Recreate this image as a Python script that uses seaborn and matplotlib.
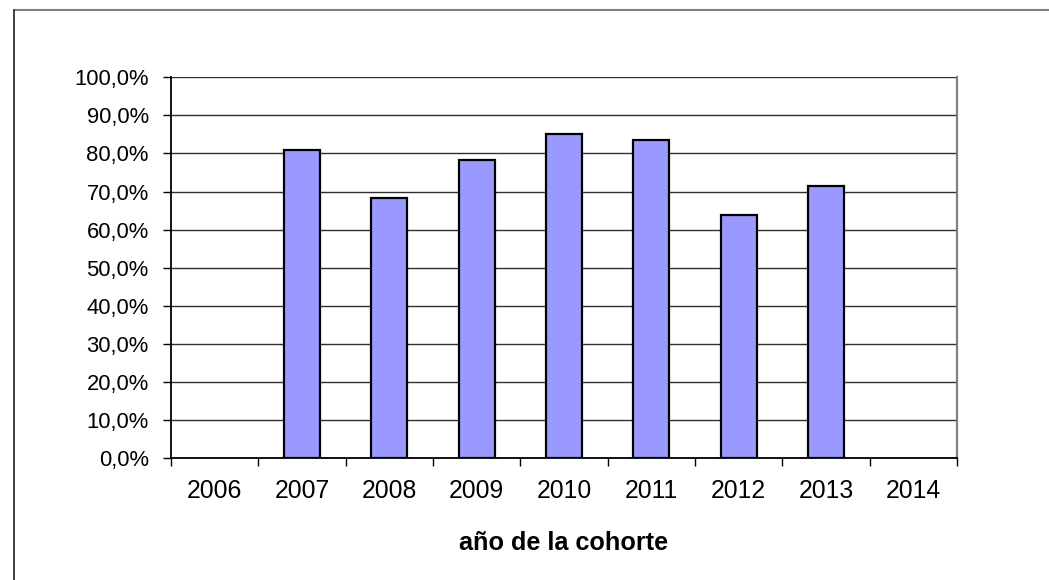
import numpy as np
import pandas as pd
import matplotlib
matplotlib.use("Agg")
import matplotlib.pyplot as plt
import matplotlib.ticker as ticker
from matplotlib.lines import Line2D
import seaborn as sns

# cohort years and share (%)
years = ['2006', '2007', '2008', '2009', '2010', '2011', '2012', '2013', '2014']
values = [np.nan, 81.0, 68.3, 78.4, 85.2, 83.4, 63.7, 71.5, np.nan]

df = pd.DataFrame({'year': years, 'pct': values})

sns.set_theme(style='white')
plt.rcParams['font.family'] = ['Liberation Sans', 'DejaVu Sans']

fig = plt.figure(figsize=(10.49, 5.80), dpi=100)
ax = fig.add_axes([171/1049, 1 - 458/580, (957 - 171)/1049, (458 - 77.3)/580])

sns.barplot(data=df, x='year', y='pct', color='#9999FF', saturation=1,
            edgecolor='black', linewidth=1.6, width=0.41, ax=ax)

ax.set_xlim(-0.5, 8.5)
ax.set_ylim(0, 100)
ax.set_yticks(np.arange(0, 101, 10))
ax.yaxis.set_major_formatter(ticker.FuncFormatter(lambda v, p: f'{v:.1f}'.replace('.', ',') + '%'))
ax.yaxis.grid(True, color='#303030', linewidth=1.0)
ax.set_axisbelow(True)

# tick marks between categories, labels at centres
ax.set_xticks(np.arange(-0.5, 9, 1), minor=True)
ax.tick_params(axis='x', which='minor', direction='out', length=6, width=1, color='black', bottom=True)
ax.tick_params(axis='x', which='major', length=0, pad=15, labelsize=17.8, labelcolor='black')
ax.tick_params(axis='y', which='major', direction='out', length=6, width=1, color='black',
               left=True, pad=10, labelsize=15.8, labelcolor='black')

for s in ['left', 'bottom']:
    ax.spines[s].set_color('black')
    ax.spines[s].set_linewidth(1.3)
ax.spines['right'].set_color('#808080')
ax.spines['right'].set_linewidth(1.6)
ax.spines['top'].set_visible(False)

ax.set_ylabel('')
ax.set_xlabel('año de la cohorte', fontsize=18.2, fontweight='bold', color='black', labelpad=20)

# outer chart frame (only top and left edges fall inside the image)
fig.add_artist(Line2D([14.3/1049, 1.0], [1 - 9.7/580, 1 - 9.7/580],
                      transform=fig.transFigure, color='#808080', linewidth=1.5))
fig.add_artist(Line2D([14.3/1049, 14.3/1049], [0.0, 1 - 9.7/580],
                      transform=fig.transFigure, color='#303030', linewidth=1.3))

fig.savefig('out.png', dpi=100)
